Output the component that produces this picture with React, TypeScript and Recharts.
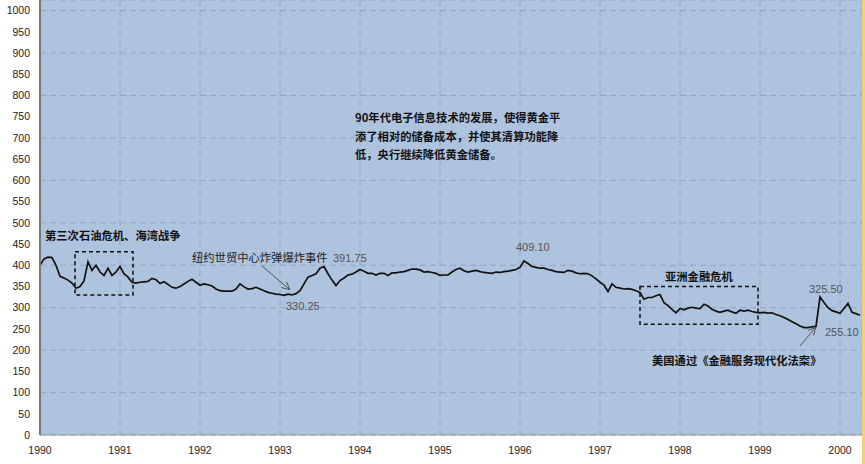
import { LineChart, Line, XAxis, YAxis, CartesianGrid, ReferenceArea } from 'recharts'

// gold price, USD/oz, sampled every 0.05 year
const prices1990 = [400, 415, 419, 418, 400, 374, 370, 365, 358, 346, 350, 363, 408, 388, 400, 384, 376, 393, 376, 384]
const prices1991 = [397, 380, 372, 360, 358, 360, 361, 362, 369, 366, 357, 361, 355, 348, 346, 350, 356, 362, 367, 360]
const prices1992 = [353, 356, 354, 351, 344, 340, 339, 339, 339, 344, 356, 349, 344, 345, 348, 344, 340, 336, 334, 332]
const prices1993 = [331, 329, 332, 330, 333, 340, 356, 372, 376, 380, 393, 397, 380, 365, 352, 364, 370, 377, 379, 384]
const prices1994 = [390, 386, 381, 381, 377, 381, 381, 376, 382, 382, 384, 385, 388, 391, 391, 389, 384, 385, 383, 381]
const prices1995 = [376, 377, 377, 384, 390, 393, 387, 384, 386, 388, 385, 383, 382, 381, 384, 383, 385, 386, 388, 390]
const prices1996 = [395, 410, 404, 397, 395, 393, 393, 390, 388, 385, 384, 383, 388, 386, 382, 380, 381, 380, 375, 368]
const prices1997 = [360, 353, 338, 356, 348, 346, 344, 345, 343, 340, 336, 320, 324, 324, 328, 331, 312, 305, 296, 288]
const prices1998 = [298, 295, 299, 301, 299, 298, 308, 304, 296, 292, 289, 292, 294, 290, 287, 294, 292, 294, 291, 289]
const prices1999 = [288, 289, 287, 288, 284, 281, 277, 272, 267, 262, 257, 253, 253, 255, 256, 325, 312, 300, 293, 290]
const prices2000 = [287, 298, 310, 289, 286, 282]

const years = [1990, 1991, 1992, 1993, 1994, 1995, 1996, 1997, 1998, 1999, 2000]
const yearPrices = [
  prices1990, prices1991, prices1992, prices1993, prices1994, prices1995,
  prices1996, prices1997, prices1998, prices1999, prices2000,
]
const yTicks = [0, 50, 100, 150, 200, 250, 300, 350, 400, 450, 500, 550, 600, 650, 700, 750, 800, 850, 900, 950, 1000]

const data = yearPrices.flatMap((list, yi) =>
  list.map((price, k) => ({ t: years[yi] + k * 0.05, price }))
)

const cjk = '"Noto Sans CJK SC", sans-serif'
const num = '"Liberation Sans", Arial, sans-serif'

function Overlay() {
  const bold = { fontFamily: cjk, fontSize: 11.3, fontWeight: 700, fill: '#111' }
  const value = { fontFamily: num, fontSize: 11, fill: '#555' }
  return (
    <svg width={865} height={464} style={{ position: 'absolute', left: 0, top: 0, pointerEvents: 'none' }}>
      <defs>
        <marker id="arr" markerWidth="8" markerHeight="8" refX="7" refY="4" orient="auto" markerUnits="userSpaceOnUse">
          <path d="M0,0 L8,4 L0,8" fill="none" stroke="#555" strokeWidth={1} />
        </marker>
      </defs>
      <text x={355} y={117} dominantBaseline="central" {...bold}>90年代电子信息技术的发展，使得黄金平</text>
      <text x={355} y={136} dominantBaseline="central" {...bold}>添了相对的储备成本，并使其清算功能降</text>
      <text x={355} y={154} dominantBaseline="central" {...bold}>低，央行继续降低黄金储备。</text>

      <text x={45} y={235} dominantBaseline="central" {...bold}>第三次石油危机、海湾战争</text>
      <text x={192} y={257} dominantBaseline="central" fontFamily={cjk} fontSize={11.3} fill="#222">纽约世贸中心炸弹爆炸事件</text>
      <line x1={262} y1={266} x2={289} y2={289} stroke="#555" strokeWidth={1} markerEnd="url(#arr)" />
      <text x={333} y={258} dominantBaseline="central" {...value}>391.75</text>
      <text x={286} y={306} dominantBaseline="central" {...value}>330.25</text>
      <text x={516} y={247} dominantBaseline="central" {...value}>409.10</text>

      <text x={665} y={276} dominantBaseline="central" {...bold}>亚洲金融危机</text>
      <text x={809} y={289} dominantBaseline="central" {...value}>325.50</text>
      <text x={825} y={332} dominantBaseline="central" {...value}>255.10</text>
      <line x1={800} y1={346} x2={815} y2={328} stroke="#555" strokeWidth={1} markerEnd="url(#arr)" />
      <text x={652} y={360} dominantBaseline="central" {...bold}>美国通过《金融服务现代化法案》</text>
    </svg>
  )
}

export default function App() {
  return (
    <div style={{ position: 'absolute', left: 0, top: 0, width: 865, height: 464, background: '#fff' }}>
      <div style={{ width: 862, height: 464, borderRight: '3px solid #f1d27a', boxSizing: 'content-box' }}>
        <LineChart width={862} height={464} data={data} margin={{ top: 0, right: 0, bottom: 0, left: 0 }}>
          <CartesianGrid fill="#aec3de" stroke="#93a7c2" strokeDasharray="6 4" />
          <XAxis
            dataKey="t"
            type="number"
            domain={[1990, 2000.275]}
            ticks={years}
            allowDataOverflow
            height={29}
            tickLine={false}
            tickMargin={6}
            axisLine={{ stroke: '#9a9a9a' }}
            tick={{ fontFamily: num, fontSize: 10.5, fill: '#222' }}
          />
          <YAxis
            type="number"
            domain={[0, 1025]}
            ticks={yTicks}
            allowDataOverflow
            width={40}
            tickLine={false}
            tickMargin={4}
            axisLine={{ stroke: '#777', strokeWidth: 2 }}
            tick={{ fontFamily: num, fontSize: 10.5, fill: '#222' }}
          />
          <ReferenceArea x1={1990.4375} x2={1991.1625} y1={330} y2={432} fill="none" stroke="#111" strokeWidth={1.5} strokeDasharray="4 3" />
          <ReferenceArea x1={1997.5} x2={1998.975} y1={261} y2={350} fill="none" stroke="#111" strokeWidth={1.5} strokeDasharray="4 3" />
          <Line dataKey="price" type="linear" stroke="#111" strokeWidth={1.7} dot={false} isAnimationActive={false} />
        </LineChart>
      </div>
      <Overlay />
    </div>
  )
}
